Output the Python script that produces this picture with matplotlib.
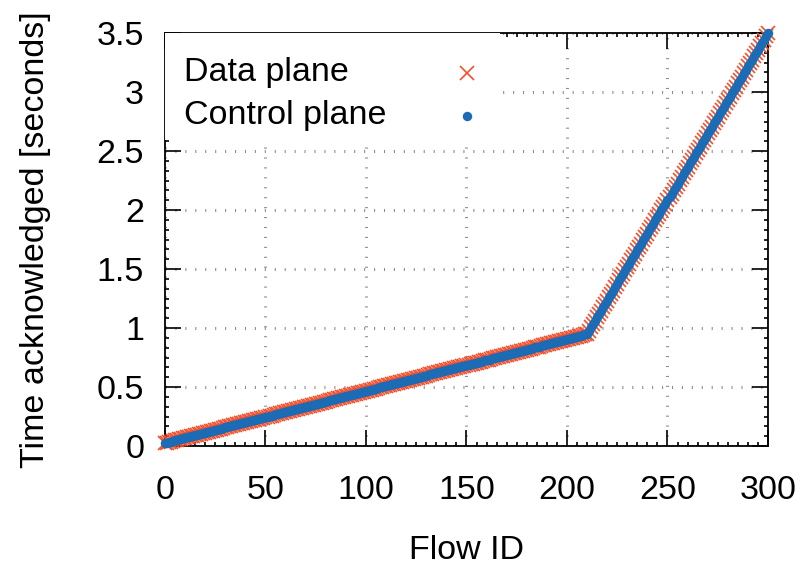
#!/usr/bin/env python3
"""
Plot the time at which each flow was acknowledged, data plane vs control plane.
"""

import numpy as np
import matplotlib
matplotlib.use("Agg")
import matplotlib.pyplot as plt
from matplotlib.patches import Rectangle
from matplotlib.ticker import MultipleLocator, FuncFormatter

plt.rcParams["font.family"] = ["Liberation Sans", "DejaVu Sans"]

# Flow IDs 0..300
flow_id = np.arange(0, 301)

# Acknowledgement time per flow [s], data plane
data_plane_ack = [
    0.025, 0.029, 0.034, 0.038, 0.043, 0.047, 0.051, 0.056, 0.060, 0.065,
    0.069, 0.073, 0.078, 0.082, 0.087, 0.091, 0.095, 0.100, 0.104, 0.109,
    0.113, 0.117, 0.122, 0.126, 0.131, 0.135, 0.139, 0.144, 0.148, 0.153,
    0.157, 0.161, 0.166, 0.170, 0.175, 0.179, 0.183, 0.188, 0.192, 0.197,
    0.201, 0.205, 0.210, 0.214, 0.219, 0.223, 0.227, 0.232, 0.236, 0.241,
    0.245, 0.249, 0.254, 0.258, 0.263, 0.267, 0.271, 0.276, 0.280, 0.285,
    0.289, 0.293, 0.298, 0.302, 0.307, 0.311, 0.315, 0.320, 0.324, 0.329,
    0.333, 0.337, 0.342, 0.346, 0.351, 0.355, 0.359, 0.364, 0.368, 0.373,
    0.377, 0.381, 0.386, 0.390, 0.395, 0.399, 0.403, 0.408, 0.412, 0.417,
    0.421, 0.425, 0.430, 0.434, 0.439, 0.443, 0.447, 0.452, 0.456, 0.461,
    0.465, 0.469, 0.474, 0.478, 0.483, 0.487, 0.491, 0.496, 0.500, 0.505,
    0.509, 0.513, 0.518, 0.522, 0.527, 0.531, 0.535, 0.540, 0.544, 0.549,
    0.553, 0.557, 0.562, 0.566, 0.571, 0.575, 0.579, 0.584, 0.588, 0.593,
    0.597, 0.601, 0.606, 0.610, 0.615, 0.619, 0.623, 0.628, 0.632, 0.637,
    0.641, 0.645, 0.650, 0.654, 0.659, 0.663, 0.667, 0.672, 0.676, 0.681,
    0.685, 0.689, 0.694, 0.698, 0.703, 0.707, 0.711, 0.716, 0.720, 0.725,
    0.729, 0.733, 0.738, 0.742, 0.747, 0.751, 0.755, 0.760, 0.764, 0.769,
    0.773, 0.777, 0.782, 0.786, 0.791, 0.795, 0.799, 0.804, 0.808, 0.813,
    0.817, 0.821, 0.826, 0.830, 0.835, 0.839, 0.843, 0.848, 0.852, 0.857,
    0.861, 0.865, 0.870, 0.874, 0.879, 0.883, 0.887, 0.892, 0.896, 0.901,
    0.905, 0.909, 0.914, 0.918, 0.923, 0.927, 0.931, 0.936, 0.940, 0.945,
    0.949, 0.977, 1.006, 1.034, 1.062, 1.091, 1.119, 1.147, 1.176, 1.204,
    1.232, 1.261, 1.289, 1.317, 1.346, 1.374, 1.403, 1.431, 1.459, 1.488,
    1.516, 1.544, 1.573, 1.601, 1.629, 1.658, 1.686, 1.714, 1.743, 1.771,
    1.799, 1.828, 1.856, 1.884, 1.913, 1.941, 1.969, 1.998, 2.026, 2.054,
    2.083, 2.111, 2.139, 2.168, 2.196, 2.224, 2.253, 2.281, 2.310, 2.338,
    2.366, 2.395, 2.423, 2.451, 2.480, 2.508, 2.536, 2.565, 2.593, 2.621,
    2.650, 2.678, 2.706, 2.735, 2.763, 2.791, 2.820, 2.848, 2.876, 2.905,
    2.933, 2.961, 2.990, 3.018, 3.046, 3.075, 3.103, 3.131, 3.160, 3.188,
    3.217, 3.245, 3.273, 3.302, 3.330, 3.358, 3.387, 3.415, 3.443, 3.472,
    3.500,
]

# control plane acked every flow at the same time
control_plane_ack = list(data_plane_ack)

labels = ["Data plane", "Control plane"]
x_ticks = [0, 50, 100, 150, 200, 250, 300]
y_ticks = [0, 0.5, 1, 1.5, 2, 2.5, 3, 3.5]

RED = "#f2502c"
BLUE = "#1b6bb5"
FS = 24.5

RED_STYLE = dict(linestyle="none", marker="x", markersize=9.5,
                 markeredgewidth=1.2, color=RED)
BLUE_STYLE = dict(linestyle="none", marker="o", markersize=6.8,
                  markeredgewidth=0, color=BLUE)


def draw_key(ax):
    """gnuplot-style key: opaque box, text left-justified, sample on the right."""
    ax.add_patch(Rectangle((0, 0.741), 0.556, 0.259, transform=ax.transAxes,
                           facecolor="white", edgecolor="none", zorder=5))
    rows = [(0.904, labels[0], RED_STYLE), (0.800, labels[1], BLUE_STYLE)]
    for y, text, style in rows:
        ax.text(0.031, y, text, transform=ax.transAxes, fontsize=FS,
                ha="left", va="center", zorder=6)
        ax.plot([0.501], [y], transform=ax.transAxes, zorder=6,
                clip_on=False, **style)


def main():
    fig = plt.figure(figsize=(8.04, 5.70), dpi=100)
    ax = fig.add_axes([165 / 804, 1 - 446 / 570, 603 / 804, 413 / 570])

    # points at the ends spill over the border, as in gnuplot
    ax.plot(flow_id, data_plane_ack, zorder=3, clip_on=False, **RED_STYLE)
    ax.plot(flow_id, control_plane_ack, zorder=4, clip_on=False, **BLUE_STYLE)

    ax.set_xlim(0, 300)
    ax.set_ylim(0, 3.5)
    ax.set_xticks(x_ticks)
    ax.set_yticks(y_ticks)
    ax.xaxis.set_minor_locator(MultipleLocator(5))
    ax.yaxis.set_minor_locator(MultipleLocator(0.5 / 6))
    ax.yaxis.set_major_formatter(FuncFormatter(lambda v, _: f"{v:g}"))

    ax.tick_params(which="both", direction="in", top=True, right=True,
                   labelsize=FS, width=1.2, color="black")
    ax.tick_params(which="major", length=11.5)
    ax.tick_params(which="minor", length=3)
    ax.tick_params(axis="x", pad=21)
    ax.tick_params(axis="y", pad=15)
    for sp in ax.spines.values():
        sp.set_linewidth(1.3)

    # dotted grid at the major tics
    ax.grid(True, which="major", color="#8c8c8c", linewidth=2.2,
            linestyle=(0, (0.35, 2.9)), zorder=1)
    ax.set_axisbelow(True)

    ax.set_xlabel("Flow ID", fontsize=FS)
    ax.set_ylabel("Time acknowledged [seconds]", fontsize=FS)
    ax.xaxis.set_label_coords(0.5, -0.252)
    ax.xaxis.label.set_va("center")
    ax.yaxis.set_label_coords(-0.215, 0.5)
    ax.yaxis.label.set_va("center")

    draw_key(ax)

    fig.savefig("out.png", dpi=100)


if __name__ == "__main__":
    main()
